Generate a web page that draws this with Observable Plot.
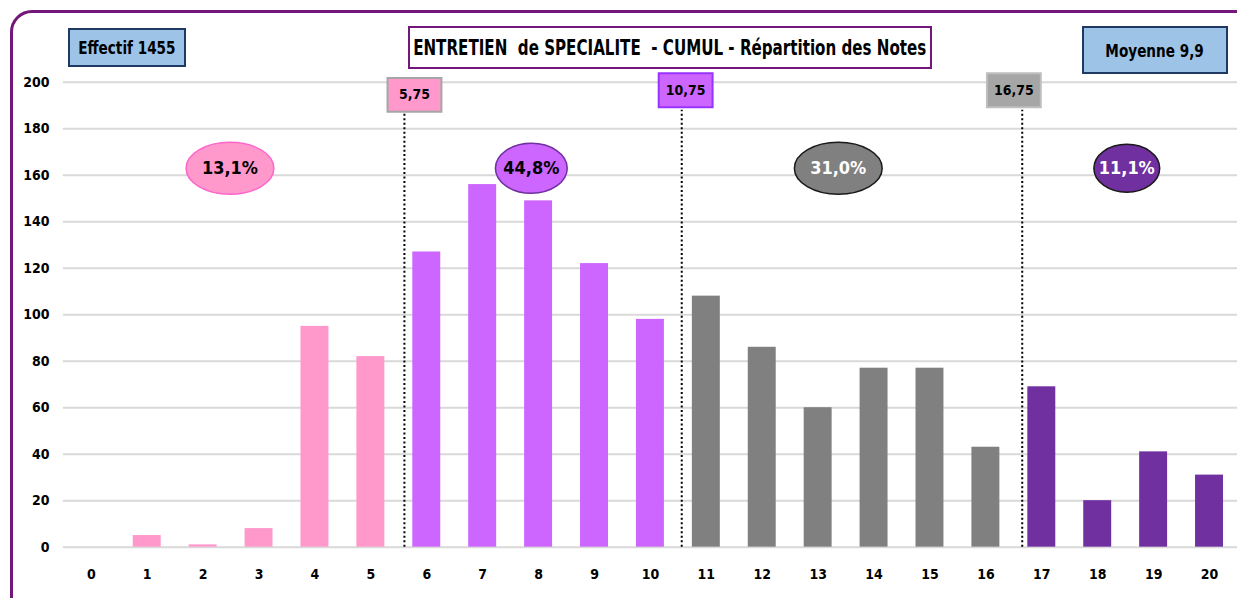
<!DOCTYPE html>
<html>
<head>
<meta charset="utf-8">
<script src="https://cdn.jsdelivr.net/npm/d3@7"></script>
<script src="https://cdn.jsdelivr.net/npm/@observablehq/plot@0.6"></script>
<style>
  html, body { margin: 0; padding: 0; background: #fff; overflow: hidden; }
  #wrap { position: relative; width: 1237px; height: 598px; overflow: hidden;
          font-family: "Liberation Sans Narrow", "DejaVu Sans Condensed", "Arial Narrow", sans-serif; font-weight: bold; }
  #chart { position: absolute; left: 0; top: 0; }
  .box { position: absolute; box-sizing: border-box; display: flex; align-items: center; justify-content: center; color: #000; white-space: nowrap; }
  .box span { display: inline-block; white-space: nowrap; transform: scaleX(0.84); }
  #frame { position: absolute; left: 10px; top: 10px; width: 1260px; height: 620px; border: 3px solid #74177A;
           border-radius: 22px; box-sizing: border-box; pointer-events: none; }
</style>
</head>
<body>
<div id="wrap">
  <div id="chart"></div>
  <div id="frame"></div>
  <div class="box" style="left:68px;top:28px;width:118px;height:39px;background:#9DC3E6;border:2px solid #1F3864;font-size:18px;"><span id="effectif"></span></div>
  <div class="box" style="left:408px;top:26px;width:524px;height:43px;background:#fff;border:2px solid #74177A;font-size:21px;"><span id="titre" style="transform: scaleX(0.8);"></span></div>
  <div class="box" style="left:1082px;top:26px;width:146px;height:48px;background:#9DC3E6;border:2px solid #1F3864;font-size:18px;"><span id="moyenne"></span></div>
</div>
<script>
// ---- data ----
const titre = "ENTRETIEN\u00a0 de SPECIALITE\u00a0 - CUMUL - Répartition des Notes";
const effectifTotal = "Effectif 1455";
const moyenne = "Moyenne 9,9";

const notes      = [0, 1, 2, 3, 4, 5, 6, 7, 8, 9, 10, 11, 12, 13, 14, 15, 16, 17, 18, 19, 20];
const effectifs  = [0, 5, 1, 8, 95, 82, 127, 156, 149, 122, 98, 108, 86, 60, 77, 77, 43, 69, 20, 41, 31];
const groupes    = ["A","A","A","A","A","A","B","B","B","B","B","C","C","C","C","C","C","D","D","D","D"];

const groupNames   = ["A", "B", "C", "D"];
const groupColors  = ["#FF99CC", "#CC66FF", "#808080", "#7030A0"];

// share of each group (ellipses)
const partLabels   = ["13,1%", "44,8%", "31,0%", "11,1%"];
const partX        = [2.48, 7.87, 13.36, 18.52];
const partY        = [163, 163, 163, 163];
const partRx       = [44, 36, 44, 33];
const partRy       = [26, 25, 26, 24];
const partStroke   = ["#FF66CC", "#7030A0", "#1A1A1A", "#1A1A1A"];
const partText     = ["#000", "#000", "#fff", "#fff"];

// thresholds (dotted separators + labels)
const seuilLabels  = ["5,75", "10,75", "16,75"];
const seuilLineX   = [5.60, 10.56, 16.65];
const seuilBoxX    = [5.78, 10.63, 16.50];
const seuilBoxY    = [194.6, 196.6, 196.6];
const seuilFill    = ["#FF99CC", "#CC66FF", "#A6A6A6"];
const seuilStroke  = ["#A6A6A6", "#9933FF", "#BFBFBF"];

const yTicks = [0, 20, 40, 60, 80, 100, 120, 140, 160, 180, 200];

// ---- build ----
document.getElementById("titre").textContent = titre;
document.getElementById("effectif").textContent = effectifTotal;
document.getElementById("moyenne").textContent = moyenne;

const rows = notes.map((n, i) => ({note: n, effectif: effectifs[i], groupe: groupes[i]}));
const parts = partLabels.map((l, i) => ({label: l, x: partX[i], y: partY[i]}));
const seuils = seuilLabels.map((l, i) => ({label: l, lx: seuilLineX[i], bx: seuilBoxX[i], by: seuilBoxY[i]}));

function ellipse(rx, ry) {
  const k = 0.5522847498;
  return {draw(ctx) {
    ctx.moveTo(rx, 0);
    ctx.bezierCurveTo(rx, ry * k, rx * k, ry, 0, ry);
    ctx.bezierCurveTo(-rx * k, ry, -rx, ry * k, -rx, 0);
    ctx.bezierCurveTo(-rx, -ry * k, -rx * k, -ry, 0, -ry);
    ctx.bezierCurveTo(rx * k, -ry, rx, -ry * k, rx, 0);
    ctx.closePath();
  }};
}
function rectSym(w, h) {
  return {draw(ctx) {
    ctx.moveTo(-w / 2, -h / 2);
    ctx.lineTo(w / 2, -h / 2);
    ctx.lineTo(w / 2, h / 2);
    ctx.lineTo(-w / 2, h / 2);
    ctx.closePath();
  }};
}

const font = '"Liberation Sans Narrow", "DejaVu Sans Condensed", "Arial Narrow", sans-serif';

const marks = [
  Plot.ruleY(yTicks, {stroke: "#D9D9D9", strokeWidth: 2}),
  Plot.rectY(rows, {x1: d => d.note - 0.25, x2: d => d.note + 0.25, y: "effectif", fill: "groupe"}),
  Plot.ruleX(seuils, {x: "lx", y1: 0, y2: 188, stroke: "#000", strokeWidth: 2, strokeDasharray: "2 2.5"}),
];
seuils.forEach((s, i) => {
  marks.push(Plot.dot([s], {x: "bx", y: "by", symbol: rectSym(54, 34), fill: seuilFill[i], stroke: seuilStroke[i], strokeWidth: 2, r: 10}));
  marks.push(Plot.text([s], {x: "bx", y: "by", text: "label", fill: "#000", fontSize: 14, fontWeight: "bold", fontFamily: font}));
});
parts.forEach((p, i) => {
  marks.push(Plot.dot([p], {x: "x", y: "y", symbol: ellipse(partRx[i], partRy[i]), fill: groupColors[i], stroke: partStroke[i], strokeWidth: 1.5, r: 10}));
  marks.push(Plot.text([p], {x: "x", y: "y", text: "label", fill: partText[i], fontSize: 18, fontWeight: "bold", fontFamily: font}));
});
marks.push(Plot.axisY({ticks: yTicks, tickSize: 0, tickPadding: 14, fontSize: 14, fontWeight: "bold", label: null}));
marks.push(Plot.axisX({ticks: notes, tickSize: 0, tickPadding: 22, fontSize: 14, fontWeight: "bold", label: null, tickFormat: d => String(d)}));

const chart = Plot.plot({
  width: 1240,
  height: 598,
  marginTop: 82,
  marginBottom: 50,
  marginLeft: 63,
  marginRight: 0,
  style: {fontFamily: font, fontWeight: "bold", color: "#000", background: "transparent", overflow: "visible"},
  x: {type: "linear", domain: [-0.5, 20.5]},
  y: {domain: [0, 200]},
  color: {domain: groupNames, range: groupColors},
  marks
});
document.getElementById("chart").appendChild(chart);
</script>
</body>
</html>
